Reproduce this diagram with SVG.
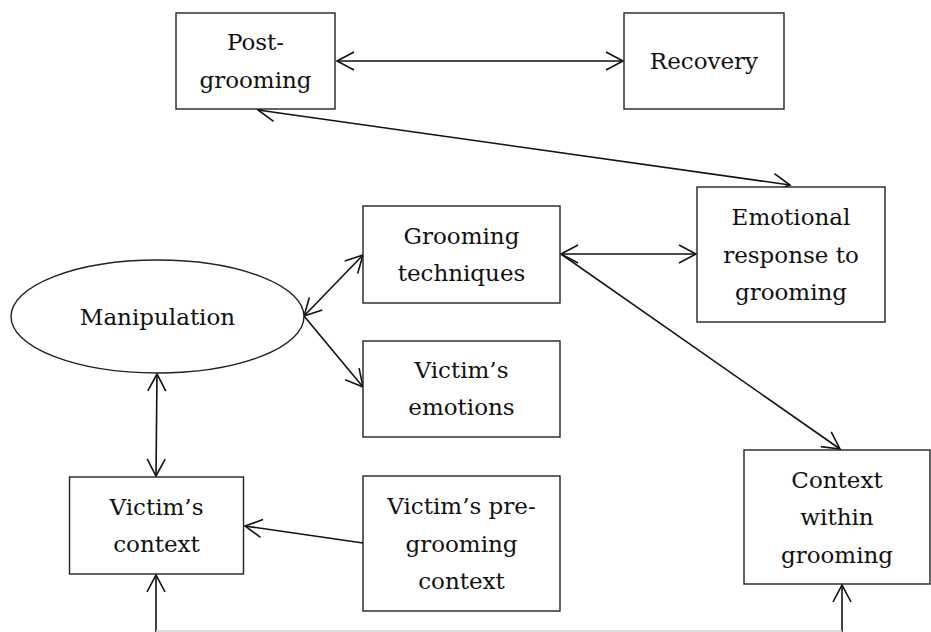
<svg xmlns="http://www.w3.org/2000/svg" width="931" height="632" viewBox="0 0 931 632">
<style>
.box{fill:#fff;stroke:#222;stroke-width:1.4}
.lbl{font-family:"DejaVu Serif","Liberation Serif",serif;font-size:23px;fill:#111;text-anchor:middle}
.con{fill:none;stroke:#111;stroke-width:1.6}
</style>
<defs>
<marker id="arr" viewBox="-20 -11 22 22" refX="0" refY="0" markerWidth="22" markerHeight="22" markerUnits="userSpaceOnUse" orient="auto-start-reverse">
<path d="M-17,-9 L0,0 L-17,9" fill="none" stroke="#111" stroke-width="1.6"/>
</marker>
</defs>
<rect width="931" height="632" fill="#fff"/>
<g id="connectors">
<line class="con" x1="337" y1="61" x2="623" y2="61" marker-start="url(#arr)" marker-end="url(#arr)"/>
<line class="con" x1="258" y1="110" x2="790" y2="185" marker-start="url(#arr)" marker-end="url(#arr)"/>
<line class="con" x1="561" y1="254" x2="696" y2="254" marker-start="url(#arr)" marker-end="url(#arr)"/>
<line class="con" x1="561" y1="254" x2="840" y2="449" marker-end="url(#arr)"/>
<line class="con" x1="304" y1="316" x2="363" y2="255" marker-start="url(#arr)" marker-end="url(#arr)"/>
<line class="con" x1="304" y1="316" x2="363" y2="387" marker-end="url(#arr)"/>
<line class="con" x1="157" y1="374" x2="156" y2="476" marker-start="url(#arr)" marker-end="url(#arr)"/>
<line class="con" x1="363" y1="543" x2="245" y2="526" marker-end="url(#arr)"/>
<line class="con" x1="156" y1="632" x2="156" y2="575" marker-end="url(#arr)"/>
<line class="con" x1="842" y1="632" x2="842" y2="585" marker-end="url(#arr)"/>
<line x1="156" y1="631" x2="842" y2="631" stroke="#d0d0d0" stroke-width="1.4"/>
</g>
<g id="post-grooming">
<rect class="box" x="176" y="13" width="159" height="96"/>
<text class="lbl" x="255.5" y="50">Post-</text>
<text class="lbl" x="255.5" y="88">grooming</text>
</g>
<g id="recovery">
<rect class="box" x="624" y="13" width="160" height="96"/>
<text class="lbl" x="704" y="69">Recovery</text>
</g>
<g id="emotional-response">
<rect class="box" x="697" y="187" width="188" height="135"/>
<text class="lbl" x="791" y="225">Emotional</text>
<text class="lbl" x="791" y="262.5">response to</text>
<text class="lbl" x="791" y="300">grooming</text>
</g>
<g id="grooming-techniques">
<rect class="box" x="363" y="206" width="197" height="97"/>
<text class="lbl" x="461.5" y="243.5">Grooming</text>
<text class="lbl" x="461.5" y="281">techniques</text>
</g>
<g id="manipulation">
<ellipse class="box" cx="157.5" cy="316.5" rx="146.5" ry="56.5"/>
<text class="lbl" x="157.5" y="324.5">Manipulation</text>
</g>
<g id="victims-emotions">
<rect class="box" x="363" y="341" width="197" height="96"/>
<text class="lbl" x="461.5" y="377.5">Victim’s</text>
<text class="lbl" x="461.5" y="414.5">emotions</text>
</g>
<g id="victims-context">
<rect class="box" x="69.5" y="477" width="174" height="97"/>
<text class="lbl" x="156.5" y="515">Victim’s</text>
<text class="lbl" x="156.5" y="552">context</text>
</g>
<g id="victims-pre-grooming-context">
<rect class="box" x="363" y="476" width="197" height="135"/>
<text class="lbl" x="461.5" y="514">Victim’s pre-</text>
<text class="lbl" x="461.5" y="551.5">grooming</text>
<text class="lbl" x="461.5" y="589">context</text>
</g>
<g id="context-within-grooming">
<rect class="box" x="744" y="450" width="186" height="134"/>
<text class="lbl" x="837" y="487.5">Context</text>
<text class="lbl" x="837" y="525">within</text>
<text class="lbl" x="837" y="562.5">grooming</text>
</g>
</svg>
